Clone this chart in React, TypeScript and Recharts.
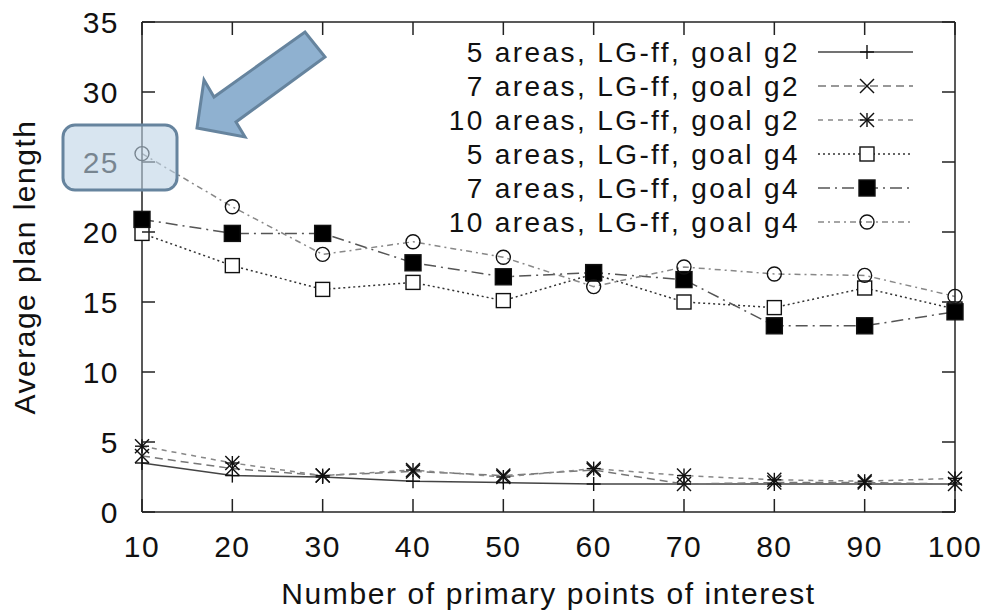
import React from "react";
import { LineChart, Line, XAxis, YAxis, Label } from "recharts";

document.body.style.margin = "0";

const FONT = "'Liberation Sans', Arial, Helvetica, sans-serif";

const points = [10, 20, 30, 40, 50, 60, 70, 80, 90, 100];
const xTicks = [10, 20, 30, 40, 50, 60, 70, 80, 90, 100];
const yTicks = [0, 5, 10, 15, 20, 25, 30, 35];

const areas5g2 = [3.5, 2.6, 2.5, 2.2, 2.1, 2.0, 2.0, 2.0, 2.0, 2.0];
const areas7g2 = [4.0, 3.1, 2.6, 2.9, 2.6, 3.0, 2.0, 2.1, 2.1, 2.0];
const areas10g2 = [4.7, 3.5, 2.6, 3.0, 2.5, 3.1, 2.6, 2.3, 2.2, 2.4];
const areas5g4 = [19.9, 17.6, 15.9, 16.4, 15.1, 17.0, 15.0, 14.6, 16.0, 14.5];
const areas7g4 = [20.9, 19.9, 19.9, 17.8, 16.8, 17.1, 16.6, 13.3, 13.3, 14.3];
const areas10g4 = [25.6, 21.8, 18.4, 19.3, 18.2, 16.1, 17.5, 17.0, 16.9, 15.4];

const data = points.map((x, i) => ({
  x,
  a5g2: areas5g2[i],
  a7g2: areas7g2[i],
  a10g2: areas10g2[i],
  a5g4: areas5g4[i],
  a7g4: areas7g4[i],
  a10g4: areas10g4[i],
}));

type Marker = "plus" | "cross" | "star" | "square" | "filled" | "circle";

const series: { key: string; label: string; color: string; dash?: string; marker: Marker }[] = [
  { key: "a5g2", label: "5 areas, LG-ff, goal g2", color: "#444", marker: "plus" },
  { key: "a7g2", label: "7 areas, LG-ff, goal g2", color: "#777", dash: "8 5", marker: "cross" },
  { key: "a10g2", label: "10 areas, LG-ff, goal g2", color: "#888", dash: "5 5", marker: "star" },
  { key: "a5g4", label: "5 areas, LG-ff, goal g4", color: "#333", dash: "2 3", marker: "square" },
  { key: "a7g4", label: "7 areas, LG-ff, goal g4", color: "#555", dash: "12 5 2 5", marker: "filled" },
  { key: "a10g4", label: "10 areas, LG-ff, goal g4", color: "#888", dash: "6 4 2 4", marker: "circle" },
];

function drawMarker(type: Marker, cx: number, cy: number) {
  const s = 7;
  const st = { stroke: "#111", strokeWidth: 1.4 };
  switch (type) {
    case "plus":
      return (
        <g>
          <line x1={cx - s} y1={cy} x2={cx + s} y2={cy} {...st} />
          <line x1={cx} y1={cy - s} x2={cx} y2={cy + s} {...st} />
        </g>
      );
    case "cross":
      return (
        <g>
          <line x1={cx - s} y1={cy - s} x2={cx + s} y2={cy + s} {...st} />
          <line x1={cx - s} y1={cy + s} x2={cx + s} y2={cy - s} {...st} />
        </g>
      );
    case "star":
      return (
        <g>
          <line x1={cx - s} y1={cy} x2={cx + s} y2={cy} {...st} />
          <line x1={cx} y1={cy - s} x2={cx} y2={cy + s} {...st} />
          <line x1={cx - s} y1={cy - s} x2={cx + s} y2={cy + s} {...st} />
          <line x1={cx - s} y1={cy + s} x2={cx + s} y2={cy - s} {...st} />
        </g>
      );
    case "square":
      return <rect x={cx - s} y={cy - s} width={2 * s} height={2 * s} fill="#fff" {...st} />;
    case "filled":
      return <rect x={cx - s - 1} y={cy - s - 1} width={2 * s + 2} height={2 * s + 2} fill="#000" {...st} />;
    case "circle":
      return <circle cx={cx} cy={cy} r={s} fill="none" {...st} />;
  }
}

const markerDot = (type: Marker) => (props: any) => {
  const { cx, cy, index } = props;
  if (cx == null || cy == null) return <g key={index} />;
  return <g key={index}>{drawMarker(type, cx, cy)}</g>;
};

const BottomTick = (props: any) => {
  const { x, y, payload } = props;
  return (
    <g>
      <line x1={x} y1={y} x2={x} y2={y - 13} stroke="#222" strokeWidth={1.5} />
      <text x={x} y={y + 45} textAnchor="middle" fontSize={30} letterSpacing={1.5} fill="#111" fontFamily={FONT}>
        {payload.value}
      </text>
    </g>
  );
};

const TopTick = (props: any) => {
  const { x, y } = props;
  return <line x1={x} y1={y} x2={x} y2={y + 13} stroke="#222" strokeWidth={1.5} />;
};

const LeftTick = (props: any) => {
  const { x, y, payload } = props;
  return (
    <g>
      <line x1={x} y1={y} x2={x + 13} y2={y} stroke="#222" strokeWidth={1.5} />
      <text x={x - 23} y={y + 11} textAnchor="end" fontSize={30} letterSpacing={1.5} fill="#111" fontFamily={FONT}>
        {payload.value}
      </text>
    </g>
  );
};

const RightTick = (props: any) => {
  const { x, y } = props;
  return <line x1={x} y1={y} x2={x - 13} y2={y} stroke="#222" strokeWidth={1.5} />;
};

function LegendBox() {
  return (
    <svg width={500} height={220} style={{ position: "absolute", left: 440, top: 20, pointerEvents: "none" }}>
      {series.map((s, i) => {
        const y = 32 + i * 34;
        return (
          <g key={s.key}>
            <text
              x={360}
              y={y + 10}
              textAnchor="end"
              fontSize={28}
              letterSpacing={2.4}
              fill="#111"
              fontFamily={FONT}
            >
              {s.label}
            </text>
            <line x1={378} y1={y} x2={473} y2={y} stroke={s.color} strokeWidth={1.5} strokeDasharray={s.dash} />
            {drawMarker(s.marker, 427, y)}
          </g>
        );
      })}
    </svg>
  );
}

function Callout() {
  return (
    <svg width={987} height={613} style={{ position: "absolute", left: 0, top: 0, pointerEvents: "none" }}>
      <rect x={63} y={125} width={114} height={65} rx={12} fill="rgba(190,212,230,0.6)" stroke="#66849e" strokeWidth={3} />
      <polygon
        points="197,128 204,80 214,97 305,32 325,57 236,122 245,137"
        fill="#8fb1d0"
        stroke="#66849e"
        strokeWidth={3}
        strokeLinejoin="miter"
      />
    </svg>
  );
}

export default function App() {
  return (
    <div style={{ position: "relative", width: 987, height: 613, background: "#fff" }}>
      <LineChart width={987} height={613} data={data} margin={{ top: 21, right: 31, bottom: 0, left: 0 }}>
        <XAxis
          dataKey="x"
          type="number"
          domain={[10, 100]}
          ticks={xTicks}
          height={101}
          tickLine={false}
          tickSize={0}
          tickMargin={0}
          tick={<BottomTick />}
          axisLine={{ stroke: "#222", strokeWidth: 1.5 }}
          interval={0}
        >
          <Label
            value="Number of primary points of interest"
            position="insideBottom"
            offset={9}
            fontSize={30}
            letterSpacing={1.6}
            fill="#111"
            fontFamily={FONT}
          />
        </XAxis>
        <XAxis
          xAxisId="top"
          dataKey="x"
          type="number"
          orientation="top"
          domain={[10, 100]}
          ticks={xTicks}
          height={1}
          tickLine={false}
          tickSize={0}
          tickMargin={0}
          tick={<TopTick />}
          axisLine={{ stroke: "#222", strokeWidth: 1.5 }}
          interval={0}
        />
        <YAxis
          type="number"
          domain={[0, 35]}
          ticks={yTicks}
          width={142}
          tickLine={false}
          tickSize={0}
          tickMargin={0}
          tick={<LeftTick />}
          axisLine={{ stroke: "#222", strokeWidth: 1.5 }}
          interval={0}
        >
          <Label
            value="Average plan length"
            angle={-90}
            position="insideLeft"
            offset={24}
            fontSize={30}
            letterSpacing={1.5}
            fill="#111"
            fontFamily={FONT}
            style={{ textAnchor: "middle" }}
          />
        </YAxis>
        <YAxis
          yAxisId="right"
          orientation="right"
          type="number"
          domain={[0, 35]}
          ticks={yTicks}
          width={1}
          tickLine={false}
          tickSize={0}
          tickMargin={0}
          tick={<RightTick />}
          axisLine={{ stroke: "#222", strokeWidth: 1.5 }}
          interval={0}
        />
        {/* invisible series so the mirrored top/right axes get drawn */}
        <Line
          xAxisId="top"
          yAxisId="right"
          dataKey="a5g2"
          stroke="none"
          dot={false}
          activeDot={false}
          legendType="none"
          isAnimationActive={false}
        />
        {series.map((s) => (
          <Line
            key={s.key}
            dataKey={s.key}
            name={s.label}
            type="linear"
            stroke={s.color}
            strokeWidth={1.5}
            strokeDasharray={s.dash}
            dot={markerDot(s.marker)}
            activeDot={false}
            isAnimationActive={false}
          />
        ))}
      </LineChart>
      <LegendBox />
      <Callout />
    </div>
  );
}
